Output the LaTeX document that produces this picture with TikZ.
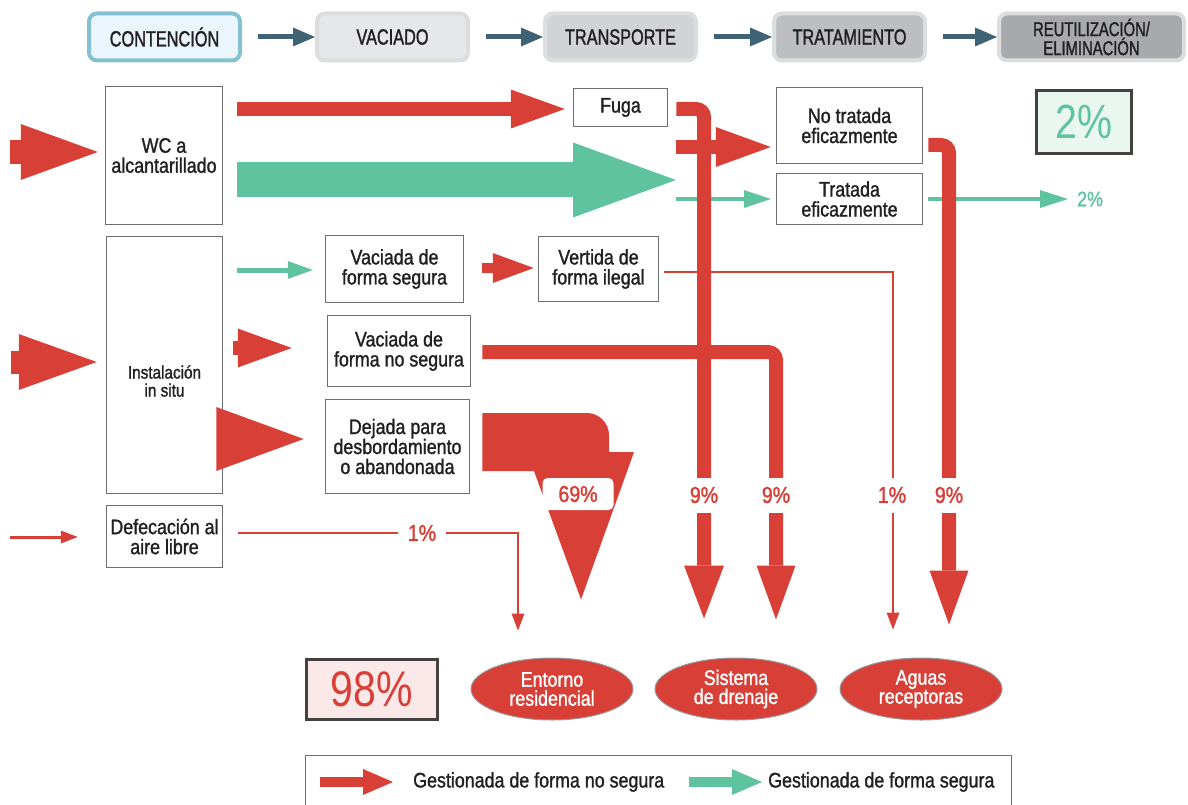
\documentclass[tikz,border=0pt]{standalone}
\usepackage{fontspec}
\setmainfont{Liberation Sans}[FakeStretch=0.85, FakeBold=1.3]
\newfontfamily\hdrfont{Liberation Sans}[FakeStretch=0.74, FakeBold=1.3]
\newfontfamily\numfont{Liberation Sans}[FakeStretch=0.82]
\usepackage{tikz}
\usetikzlibrary{arrows.meta,calc,shapes.geometric}
\definecolor{RD}{HTML}{D83F36}
\definecolor{GN}{HTML}{5FC3A0}
\definecolor{ARR}{HTML}{3F6274}
\definecolor{TX}{HTML}{231F20}
\definecolor{BX}{HTML}{6D6E71}
\definecolor{H0}{HTML}{EAF6FB}
\definecolor{H0b}{HTML}{86C1D2}
\definecolor{H1}{HTML}{E6E7E8}
\definecolor{H2}{HTML}{D1D3D4}
\definecolor{H3}{HTML}{BCBEC0}
\definecolor{H4}{HTML}{A7A9AC}
\definecolor{HB}{HTML}{DCDDDE}
\definecolor{G0}{HTML}{EAF6F0}
\definecolor{R0}{HTML}{FBE9EA}

\tikzset{
  hdr/.style={draw=HB, line width=4pt, rounded corners=8pt, minimum width=151pt, minimum height=47pt, text=TX, align=center, inner sep=0pt, font=\hdrfont\fontsize{22}{22}\selectfont},
  hdrarrow/.style={ARR, line width=5pt, -{Triangle[length=22pt,width=19pt,line width=0pt]}},
  box/.style={draw=BX, line width=1.5pt, fill=white, text=TX, align=center, inner sep=0pt, font=\fontsize{21}{20}\selectfont},
  fat/.style n args={3}{line width=#1, -{Triangle[length=#3,width=#2,line width=0pt]}},
  thin/.style={RD, line width=2pt, -{Triangle[length=17pt,width=13pt,line width=0pt]}},
  pct/.style={fill=white, text=RD, inner xsep=1pt, minimum height=35pt, font=\fontsize{23}{23}\selectfont},
  sink/.style={ellipse, draw=BX!70, fill=RD, line width=1pt, minimum width=162pt, minimum height=62pt, text=white, align=center, inner sep=0pt, font=\fontsize{21}{19}\selectfont},
  bigpct/.style={draw=TX!85, line width=3pt, font=\numfont\fontsize{50}{50}\selectfont},
}

\begin{document}
\begin{tikzpicture}[x=1pt,y=-1pt]
\useasboundingbox (0,0) rectangle (1188,805);
% stages
\node[hdr, fill=H0, draw=H0b] (contencion) at (164.5,37) {CONTENCIÓN};
\node[hdr, fill=H1] (vaciado) at (392.5,37) {VACIADO};
\node[hdr, fill=H2] (transporte) at (620.5,37) {TRANSPORTE};
\node[hdr, fill=H3] (tratamiento) at (849.5,37) {TRATAMIENTO};
\node[hdr, fill=H4, minimum width=185pt, font=\hdrfont\fontsize{20}{19}\selectfont] (reutil) at (1091.5,37) {REUTILIZACIÓN/\\ELIMINACIÓN};
\draw[hdrarrow] ($(contencion.east)+(16,0)$) -- (vaciado.west);
\draw[hdrarrow] ($(vaciado.east)+(16,0)$) -- (transporte.west);
\draw[hdrarrow] ($(transporte.east)+(16,0)$) -- (tratamiento.west);
\draw[hdrarrow] ($(tratamiento.east)+(16,0)$) -- (reutil.west);

% boxes
\node[box, minimum width=117pt, minimum height=138pt] (wc) at (164,155.5) {WC a\\alcantarillado};
\node[box, minimum width=116pt, minimum height=257pt] (insitu) at (164.5,365) {};
\node[text=TX, align=center, font=\fontsize{18}{18}\selectfont] (insitutxt) at (164.5,381) {Instalación\\in situ};
\node[box, minimum width=116pt, minimum height=62pt] (defec) at (164.5,536.5) {Defecación al\\aire libre};
\node[box, minimum width=94pt, minimum height=38pt] (fuga) at (620.5,107.5) {Fuga};
\node[box, minimum width=146pt, minimum height=76pt] (notrat) at (849.5,125.5) {No tratada\\eficazmente};
\node[box, minimum width=146pt, minimum height=51pt] (trat) at (849.5,199) {Tratada\\eficazmente};
\node[box, minimum width=138pt, minimum height=67pt] (vsegura) at (394.5,269) {Vaciada de\\forma segura};
\node[box, minimum width=120pt, minimum height=65pt] (vertida) at (598.5,269) {Vertida de\\forma ilegal};
\node[box, minimum width=143pt, minimum height=71pt] (vnosegura) at (399,351) {Vaciada de\\forma no segura};
\node[box, minimum width=144pt, minimum height=94pt] (dejada) at (397.5,446.5) {Dejada para\\desbordamiento\\o abandonada};
\node[bigpct, fill=G0, text=GN, minimum width=95pt, minimum height=63pt, font=\numfont\fontsize{48}{48}\selectfont] (pcttwo) at (1084,122) {2\%};
\node[bigpct, fill=R0, text=RD, minimum width=131pt, minimum height=60pt] (pctninety) at (372,689.5) {98\%};

% destinations
\node[sink] (entorno) at (552,689) {Entorno\\residencial};
\node[sink] (sistema) at (736,689) {Sistema\\de drenaje};
\node[sink] (aguas) at (921,689) {Aguas\\receptoras};
\coordinate (split) at (676,180);

% thin and safe flows
\draw[thin] ($(vertida.east)+(5,3)$) -| ($(aguas.north)+(-28,-28)$);
\draw[thin] ($(defec.east)+(15,-3.5)$) -| ($(entorno.north)+(-34,-27)$);
\draw[thin, line width=3pt] (10,537) -- ($(defec.west)+(-28,0.5)$);
\draw[GN, fat={35pt}{75pt}{103pt}] ($(wc.east)+(14,24.5)$) -- (split);
\draw[GN, fat={4pt}{18pt}{27pt}] ($(split)+(0,19)$) -- ($(trat.west)+(-5,0)$);
\node[anchor=west, inner xsep=3pt, text=GN, font=\fontsize{21}{21}\selectfont] (gntwo) at (1074,199) {2\%};
\draw[GN, fat={4pt}{18pt}{28pt}] ($(trat.east)+(5,0)$) -- ($(gntwo.west)+(-6,0)$);
\draw[GN, fat={5pt}{18pt}{25pt}] ($(insitu.east)+(14,-95)$) -- ($(vsegura.west)+(-12,1)$);

% unsafe flows
\draw[RD, fat={24pt}{56pt}{77pt}] (10,152) -- ($(wc.west)+(-7,-3.5)$);
\draw[RD, fat={14pt}{39pt}{54pt}] ($(wc.east)+(14,-46.5)$) -- ($(fuga.west)+(-8,1.5)$);
\draw[RD, fat={23pt}{56pt}{78pt}] (11,362) -- ($(insitu.west)+(-9,-3)$);
\draw[RD, fat={14pt}{39pt}{54pt}] ($(insitu.east)+(10,-17)$) -- ($(vnosegura.west)+(-35,-3)$);
\fill[RD] ($(insitu.east)+(-7,42)$) -- ($(dejada.west)+(-21,-7.5)$) -- ($(insitu.east)+(-7,106)$) -- cycle;
\draw[RD, fat={10pt}{30pt}{41pt}] ($(vsegura.east)+(18,-1)$) -- ($(vertida.west)+(-4,-1)$);
\draw[RD, fat={14pt}{40pt}{53pt}, rounded corners=8pt] ($(fuga.east)+(8,1.5)$) -| ($(sistema.north)+(-32,-39)$);
\draw[RD, fat={14pt}{39pt}{54pt}, rounded corners=8pt] ($(vnosegura.east)+(11,1)$) -| ($(sistema.north)+(40,-38)$);
\draw[RD, fat={14pt}{39pt}{54pt}, rounded corners=8pt] ($(notrat.east)+(5,19.5)$) -| ($(aguas.north)+(28,-33)$);
\draw[RD, fat={14pt}{40pt}{55pt}] ($(split)+(0,-33)$) -- ($(notrat.west)+(-5,21.5)$);
\fill[RD] ($(dejada.east)+(12,-33.5)$) -- (587,413) .. controls (599,413) and (609,423) .. (609,435) -- (609,452) -- (634,452)
  -- ($(entorno.north)+(29,-58)$) -- (534,471) -- ($(dejada.east)+(12,24.5)$) -- cycle;

% shares
\node[pct] (pa) at (704,495) {9\%};
\node[pct] (pb) at (776,495) {9\%};
\node[pct] (pc) at (892,495) {1\%};
\node[pct] (pd) at (949,495) {9\%};
\node[pct, minimum height=20pt, minimum width=48pt] (pe) at (422,533) {1\%};
\node[pct, rounded corners=5pt, minimum width=71pt, minimum height=32pt] (pf) at (578,494) {69\%};

% legend
\node[draw=BX, line width=1pt, minimum width=706pt, minimum height=62pt] (legend) at (658.5,786) {};
\node[anchor=west, inner xsep=0pt, text=TX, font=\fontsize{21}{21}\selectfont] (lgno) at (413,782) {Gestionada de forma no segura};
\node[anchor=west, inner xsep=0pt, text=TX, font=\fontsize{21}{21}\selectfont] (lgsi) at (768,782) {Gestionada de forma segura};
\draw[RD, fat={10pt}{26pt}{30pt}] ($(lgno.west)+(-93,0)$) -- ($(lgno.west)+(-20,0)$);
\draw[GN, fat={10pt}{26pt}{30pt}] ($(lgsi.west)+(-79,0)$) -- ($(lgsi.west)+(-6,0)$);
\end{tikzpicture}
\end{document}
